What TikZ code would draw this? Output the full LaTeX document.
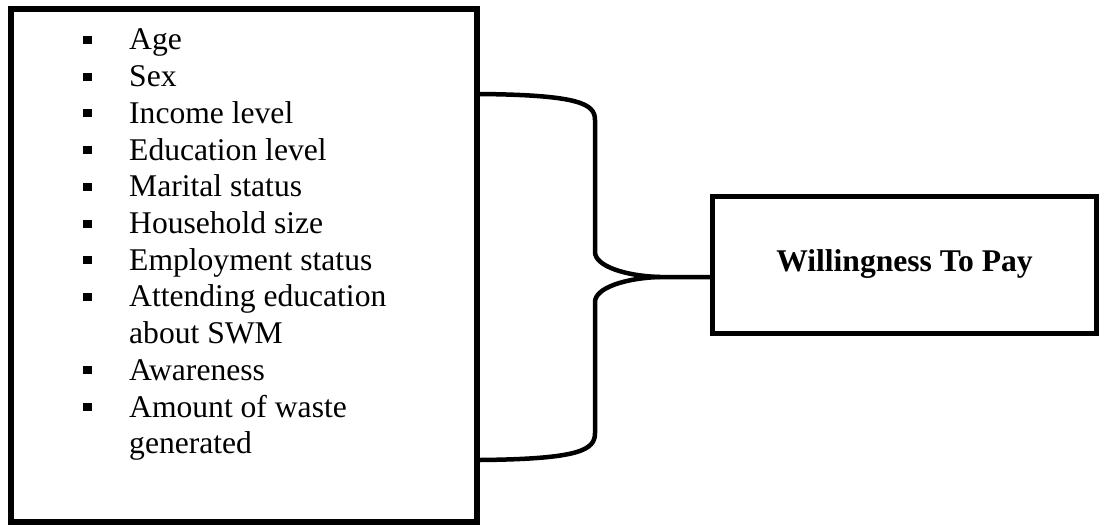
\documentclass[tikz,border=0pt]{standalone}
\usepackage{fontspec}
\setmainfont{Liberation Serif}

\begin{document}
\begin{tikzpicture}[x=1pt,y=-1pt,
    font=\fontsize{31.6}{36.7}\selectfont,
    factorbox/.style={draw,line width=6pt,minimum width=466pt,minimum height=513pt},
    targetbox/.style={draw,line width=5pt,minimum width=384pt,minimum height=137pt,font=\fontsize{31.6}{36.7}\selectfont\bfseries},
    joinline/.style={line width=4.5pt,line join=round}]
    \useasboundingbox (0,0) rectangle (1099,527);

    \node[factorbox] (factors) at (244,265.5) {};
    \node[targetbox] (wtp) at (904.5,264.5) {Willingness To Pay};

    % list of factors, \b=1 when the line gets a bullet
    \foreach \n/\txt/\b in {0/Age/1, 1/Sex/1, 2/Income level/1, 3/Education level/1,
        4/Marital status/1, 5/Household size/1, 6/Employment status/1,
        7/Attending education/1, 8/about SWM/0, 9/Awareness/1,
        10/Amount of waste/1, 11/generated/0} {
        \node[anchor=base west,inner sep=0pt] (item\n) at (129,50+36.7*\n) {\txt};
        \ifnum\b=1
            \fill (83,36+36.7*\n) rectangle (92,44+36.7*\n);
        \fi
    }

    \coordinate (bt) at (factors.east |- 0,94);
    \coordinate (bb) at (factors.east |- 0,460);
    \coordinate (tip) at (660,277);
    \draw[joinline] (bt) .. controls (580,95) and (595,104) .. (595,120) -- (595,252)
        .. controls (595,266) and (625,276) .. (tip) -- (wtp.west |- tip);
    \draw[joinline] (tip) .. controls (625,278) and (595,288) .. (595,302) -- (595,433)
        .. controls (595,450) and (580,459) .. (bb);
\end{tikzpicture}
\end{document}
